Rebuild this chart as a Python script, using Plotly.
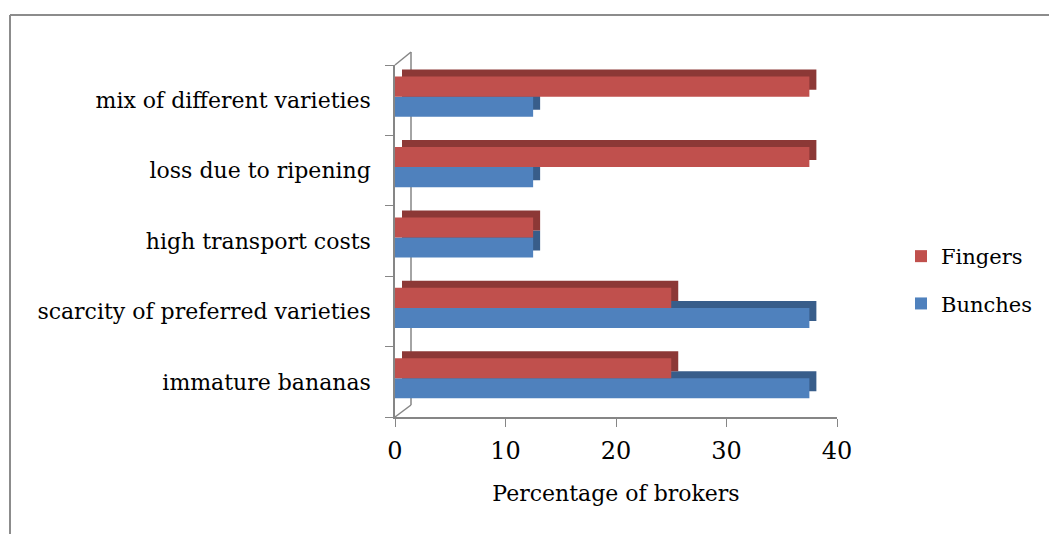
import plotly.graph_objects as go

categories = ["immature bananas", "scarcity of preferred varieties", "high transport costs",
              "loss due to ripening", "mix of different varieties"]
bunches = [37.5, 37.5, 12.5, 12.5, 12.5]
fingers = [25, 25, 12.5, 37.5, 37.5]
x_ticks = [0, 10, 20, 30, 40]

BLUE, RED = "#4F81BD", "#C0504D"
BLUE_D, RED_D = "#385D8A", "#8C3836"
AXIS = "#868686"
SERIF = "DejaVu Serif"

L, T, W, H = 395, 58, 449, 359
DX, DY = 7, 7
R = 1049 - L - W
B = 534 - T - H

BAR_W = 0.285
OFF_B, OFF_F = -0.235, 0.05

fig = go.Figure()
# depth (shadow) bars on subplot xy, drawn first
fig.add_trace(go.Bar(y=categories, x=bunches, orientation="h", marker_color=BLUE_D,
                     width=BAR_W, offset=OFF_B,
                     marker_line_width=0, showlegend=False, hoverinfo="skip",
                     xaxis="x", yaxis="y"))
fig.add_trace(go.Bar(y=categories, x=fingers, orientation="h", marker_color=RED_D,
                     width=BAR_W, offset=OFF_F,
                     marker_line_width=0, showlegend=False, hoverinfo="skip",
                     xaxis="x", yaxis="y"))
# front bars on subplot x2y2
fig.add_trace(go.Bar(y=categories, x=bunches, orientation="h", name="Bunches",
                     width=BAR_W, offset=OFF_B,
                     marker_color=BLUE, marker_line_width=0, legendgroup="b", legendrank=2,
                     xaxis="x2", yaxis="y2"))
fig.add_trace(go.Bar(y=categories, x=fingers, orientation="h", name="Fingers",
                     width=BAR_W, offset=OFF_F,
                     marker_color=RED, marker_line_width=0, legendgroup="f", legendrank=1,
                     xaxis="x2", yaxis="y2"))

ex = DX / W
ey = DY / H


def px(x):
    return (x - L) / W


def py(y):
    return (T + H - y) / H


def seg(x0, y0, x1, y1, color=AXIS, width=1.5):
    return dict(type="line", xref="paper", yref="paper", layer="below",
                x0=px(x0), y0=py(y0), x1=px(x1), y1=py(y1),
                line=dict(color=color, width=width))


fig.update_layout(
    width=1049, height=534,
    margin=dict(l=L, r=R, t=T, b=B, autoexpand=False),
    paper_bgcolor="white", plot_bgcolor="rgba(0,0,0,0)",
    barmode="overlay",
    font=dict(family=SERIF, color="black"),
    xaxis=dict(domain=[ex, 1], range=[0, 40], visible=False),
    yaxis=dict(domain=[ey, 1], type="category", categoryarray=categories,
               range=[-0.5, 4.5], visible=False),
    xaxis2=dict(domain=[0, 1 - ex], range=[0, 40], anchor="y2", automargin=False,
                tickvals=x_ticks, ticks="outside", ticklen=8, tickcolor=AXIS,
                showline=True, linecolor=AXIS, linewidth=1.5, showgrid=False,
                zeroline=False, tickfont=dict(size=24, family=SERIF), ticklabelstandoff=3,
                title=dict(text="Percentage of brokers", font=dict(size=22, family=SERIF),
                           standoff=22)),
    yaxis2=dict(domain=[0, 1 - ey], anchor="x2", type="category", automargin=False,
                categoryarray=categories, range=[-0.5, 4.5],
                ticks="outside", tickson="boundaries", ticklen=8, tickcolor=AXIS,
                showline=True, linecolor=AXIS, linewidth=1.5, showgrid=False,
                tickfont=dict(size=22, family=SERIF), ticklabelstandoff=18),
    legend=dict(x=px(901), y=py(236), xanchor="left", yanchor="top",
                traceorder="grouped", tracegroupgap=17,
                font=dict(size=21, family=SERIF), bgcolor="rgba(0,0,0,0)"),
    shapes=[
        # chart border (top and left edges)
        seg(10, 15, 1060, 15, color="#8C8C8C", width=2),
        seg(10, 15, 10, 545, color="#8C8C8C", width=2),
        # 3D back wall edges
        seg(411, 52, 411, 405),
        seg(395, 65, 411, 52),
        seg(395, 417, 411, 405),
    ],
)

fig.write_html("out.html", config={"displayModeBar": False},
               post_script="document.body.style.margin='0';")
